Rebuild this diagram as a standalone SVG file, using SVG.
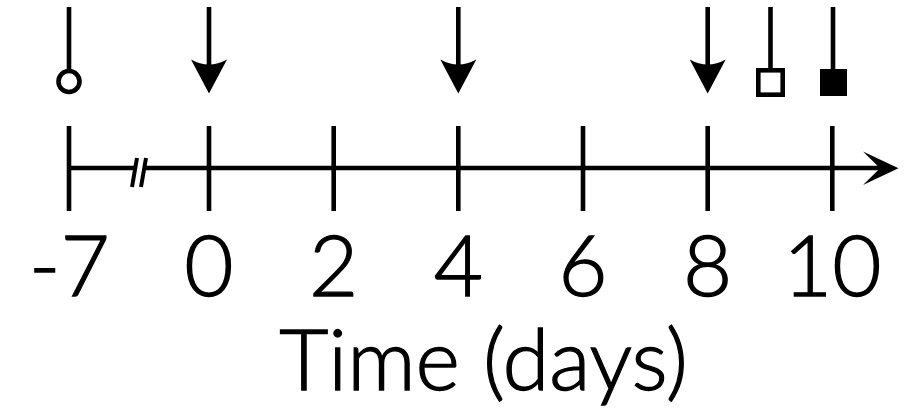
<svg xmlns="http://www.w3.org/2000/svg" width="923" height="419" viewBox="0 0 923 419">
<style>
.ln{stroke:#000;stroke-width:4.6;fill:none}
.lbl{font-family:"Lato","Noto Sans",sans-serif;font-weight:300;font-size:85px;fill:#000;stroke:#000;stroke-width:1.3;text-anchor:middle}
</style>
<defs>
<path id="dn" d="M0,0 L-18,-34 Q0,-24 18,-34 Z" fill="#000"/>
</defs>
<rect width="923" height="419" fill="#fff"/>
<g id="axis">
<line class="ln" x1="69" y1="168" x2="134" y2="168"/>
<line class="ln" x1="143" y1="168" x2="886" y2="168"/>
<path d="M898.5,168.3 L863,151.5 L880,168.3 L863,185 Z" fill="#000"/>
<line stroke="#000" stroke-width="4" x1="137" y1="158" x2="132" y2="187"/>
<line stroke="#000" stroke-width="4" x1="146" y1="158" x2="141" y2="187"/>
</g>
<g id="ticks">
<line class="ln" x1="69" y1="126" x2="69" y2="211"/>
<line class="ln" x1="209" y1="126" x2="209" y2="211"/>
<line class="ln" x1="333.7" y1="126" x2="333.7" y2="211"/>
<line class="ln" x1="458.3" y1="126" x2="458.3" y2="211"/>
<line class="ln" x1="583" y1="126" x2="583" y2="211"/>
<line class="ln" x1="707.7" y1="126" x2="707.7" y2="211"/>
<line class="ln" x1="832.3" y1="126" x2="832.3" y2="211"/>
</g>
<g id="ev-circle">
<line class="ln" x1="69" y1="7" x2="69" y2="70"/>
<circle class="ln" cx="69" cy="81.5" r="10.5"/>
</g>
<g id="ev-arrow0">
<line class="ln" x1="209" y1="7" x2="209" y2="70"/>
<use href="#dn" x="209" y="93.5"/>
</g>
<g id="ev-arrow4">
<line class="ln" x1="458.3" y1="7" x2="458.3" y2="70"/>
<use href="#dn" x="458.3" y="93.5"/>
</g>
<g id="ev-arrow8">
<line class="ln" x1="707.7" y1="7" x2="707.7" y2="70"/>
<use href="#dn" x="707.7" y="93.5"/>
</g>
<g id="ev-open-square">
<line class="ln" x1="770.5" y1="7" x2="770.5" y2="70"/>
<rect class="ln" x="758.3" y="70.3" width="24.4" height="24.4"/>
</g>
<g id="ev-filled-square">
<line class="ln" x1="833" y1="7" x2="833" y2="70"/>
<rect x="820" y="69" width="27" height="27" fill="#000"/>
</g>
<g id="labels">
<text class="lbl" x="69.5" y="296">-7</text>
<text class="lbl" x="209" y="296">0</text>
<text class="lbl" x="333.7" y="296">2</text>
<text class="lbl" x="458.3" y="296">4</text>
<text class="lbl" x="583" y="296">6</text>
<text class="lbl" x="707.7" y="296">8</text>
<text class="lbl" x="832.3" y="296">10</text>
<text class="lbl" x="483.5" y="390">Time (days)</text>
</g>
</svg>
